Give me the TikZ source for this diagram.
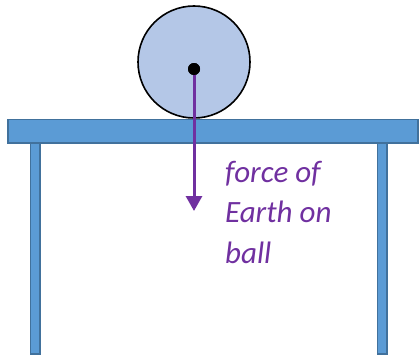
\documentclass[tikz,border=0pt]{standalone}
\usepackage{fontspec}
\setmainfont{Carlito}
\usetikzlibrary{arrows.meta,positioning}
\definecolor{tablefill}{RGB}{91,155,213}
\definecolor{tableedge}{RGB}{65,113,156}
\definecolor{ballfill}{RGB}{180,199,231}
\definecolor{forcecol}{RGB}{112,48,160}
\tikzset{
  plank/.style={draw=tableedge, fill=tablefill, line width=1.5pt},
  ball/.style={circle, draw=black, fill=ballfill, line width=1.6pt,
    minimum size=112pt, inner sep=0pt},
  dot/.style={circle, fill=black, minimum size=12pt, inner sep=0pt},
  force/.style={-{Triangle[length=15pt,width=16pt]}, draw=forcecol, line width=3pt},
  lbl/.style={text=forcecol, font=\itshape\fontsize{31pt}{40.5pt}\selectfont,
    align=left, inner sep=0pt},
}
\begin{document}
\begin{tikzpicture}[x=1pt, y=-1pt]
\useasboundingbox (0,0) rectangle (419,356);
% table
\draw[plank] (30.5,143) rectangle (40,354);
\draw[plank] (377.5,143) rectangle (387,354);
\draw[plank] (8,119.5) rectangle (418,143);
% ball
\node[ball] (ball) at (194,62) {};
\node[dot] (c) at (194,69) {};
\coordinate (tip) at (194,211);
\draw[force] (c.center) -- (tip);
\node[lbl, anchor=base west] (lab) at (225,263) {force of\\Earth on\\ball};
\node[dot] at (c) {};
\end{tikzpicture}
\end{document}
